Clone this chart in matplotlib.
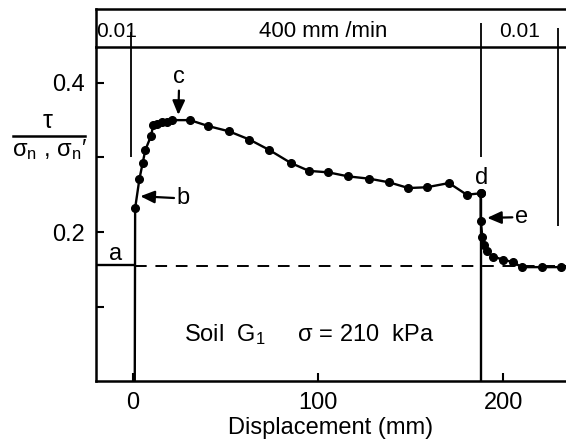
import matplotlib
matplotlib.use('Agg')
import matplotlib.pyplot as plt

plt.rcParams['font.family'] = ['Liberation Sans', 'DejaVu Sans']
plt.rcParams['mathtext.fontset'] = 'custom'
plt.rcParams['mathtext.rm'] = 'Liberation Sans'
plt.rcParams['mathtext.it'] = 'Liberation Sans'

# stage 1: 400 mm/min shearing up to point d
disp_fast = [1.2, 1.4, 3.7, 5.5, 6.9, 10.0, 11.2, 13.0, 15.7, 18.4, 21.1, 31.0,
             40.9, 52.0, 63.0, 73.7, 85.4, 95.1, 105.6, 116.3, 127.7, 138.4,
             148.7, 158.6, 170.6, 180.2, 187.7]
ratio_fast = [0.0, 0.232, 0.271, 0.293, 0.310, 0.329, 0.344, 0.345, 0.347, 0.348,
              0.350, 0.350, 0.342, 0.335, 0.324, 0.310, 0.2925, 0.282, 0.280,
              0.2746, 0.2715, 0.2666, 0.259, 0.260, 0.2657, 0.250, 0.252]
# stage 2: back to 0.01 mm/min after d
disp_slow = [187.7, 187.7, 188.6, 189.5, 190.9, 194.5, 199.9, 205.3, 209.8,
             220.6, 230.8]
ratio_slow = [0.252, 0.215, 0.194, 0.183, 0.174, 0.167, 0.163, 0.1595, 0.153,
              0.153, 0.153]
level_a = 0.154

rate_labels = ['0.01', '400 mm /min', '0.01']
rate_pos = [-8.8, 103, 208.6]
rate_sizes = [15, 16, 15]
rate_edges = [-0.8, 187.9, 229.3]

W, H = 566, 445
fig = plt.figure(figsize=(W / 100, H / 100), dpi=100)
fs = 17

ax = fig.add_axes([96 / W, (H - 381.3) / H, (W - 96) / W, (381.3 - 47) / H])
band = fig.add_axes([96 / W, (H - 47) / H, (W - 96) / W, (47 - 9.3) / H])

xlim = (-19.7, 233.7)
ax.set_xlim(*xlim)
ax.set_ylim(0, 0.448)
band.set_xlim(*xlim)
band.set_ylim(0, 1)

lw = 1.7
ax.plot(disp_fast, ratio_fast, color='black', lw=lw)
ax.plot(disp_fast[1:], ratio_fast[1:], 'o', color='black', ms=5.5)
ax.plot(disp_slow, ratio_slow, 'o-', color='black', lw=lw, ms=5.5)
ax.vlines(disp_slow[0], 0, ratio_slow[0], color='black', lw=lw)

# reference level a
ax.plot([xlim[0], 0], [level_a + 0.002, level_a + 0.002], color='black', lw=lw)
ax.plot([1.5, xlim[1]], [level_a, level_a], color='black', lw=1.4,
        dashes=(6, 4.5))

# rate-change markers
ax.vlines(rate_edges[0], 0.3, 0.448, color='black', lw=1.3)
ax.vlines(rate_edges[1], 0.3, 0.448, color='black', lw=1.3)
ax.vlines(rate_edges[2], 0.208, 0.448, color='black', lw=1.3)
band.vlines(rate_edges[0], 0, 0.39, color='black', lw=1.3)
band.vlines(rate_edges[1], 0, 0.63, color='black', lw=1.3)
band.vlines(rate_edges[2], 0, 0.5, color='black', lw=1.3)
for lab, xp, sz in zip(rate_labels, rate_pos, rate_sizes):
    band.text(xp, 0.42, lab, ha='center', va='center', fontsize=sz)

for a in (ax, band):
    a.spines['right'].set_visible(False)
    for s in a.spines.values():
        s.set_linewidth(1.8)
ax.spines['top'].set_visible(False)
band.set_xticks([])
band.set_yticks([])

ax.set_xticks([0, 100, 200])
ax.set_yticks([0.1, 0.2, 0.3, 0.4])
ax.set_yticklabels(['', '0.2', '', '0.4'])
ax.tick_params(direction='in', length=6, width=1.5, labelsize=fs, pad=8)
ax.set_xlabel('Displacement (mm)', fontsize=fs, labelpad=2)

# y label as a stacked fraction
fig.text(48 / W, 1 - 121 / H, 'τ', ha='center', va='center', fontsize=fs + 1)
fig.add_artist(plt.Line2D([13 / W, 85 / W], [1 - 136 / H, 1 - 136 / H],
                          color='black', lw=1.8))
fig.text(49 / W, 1 - 150 / H, 'σ$_n$ , σ$_n$′', ha='center', va='center',
         fontsize=fs)

# point labels
arrow = dict(arrowstyle='-|>,head_length=0.5,head_width=0.22', color='black',
             lw=1.6, shrinkA=0, shrinkB=0)
ax.annotate('c', xy=(24.7, 0.357), xytext=(25.2, 0.408), ha='center',
            va='center', fontsize=fs, arrowprops=arrow)
ax.annotate('b', xy=(4.2, 0.248), xytext=(27.4, 0.245), ha='center',
            va='center', fontsize=fs, arrowprops=arrow)
ax.annotate('e', xy=(191.2, 0.219), xytext=(209.8, 0.220), ha='center',
            va='center', fontsize=fs, arrowprops=arrow)
ax.text(188.2, 0.272, 'd', ha='center', va='center', fontsize=fs)
ax.text(-9.4, 0.170, 'a', ha='center', va='center', fontsize=fs)

ax.text(95.2, 0.062, 'Soil  G$_1$     σ = 210  kPa', ha='center', va='center',
        fontsize=fs)

fig.savefig('out.png', dpi=100)
